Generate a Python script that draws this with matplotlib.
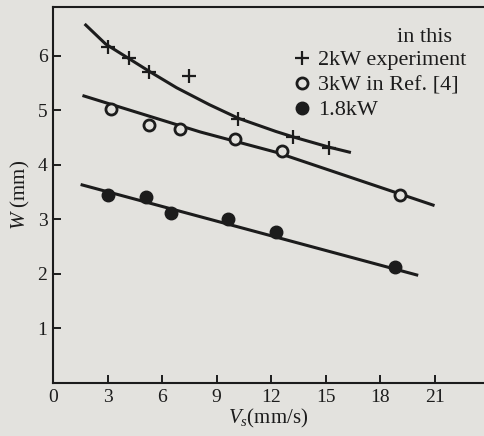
import matplotlib
matplotlib.use("Agg")
import matplotlib.pyplot as plt

# measured points
vs_2kw = [3.0, 4.2, 5.3, 7.5, 10.2, 13.2, 15.2]
w_2kw = [6.15, 5.95, 5.70, 5.62, 4.83, 4.50, 4.30]

vs_3kw = [3.2, 5.3, 7.0, 10.0, 12.6, 19.1]
w_3kw = [5.02, 4.73, 4.65, 4.48, 4.25, 3.44]

vs_18kw = [3.0, 5.1, 6.5, 9.6, 12.25, 18.8]
w_18kw = [3.44, 3.41, 3.11, 3.00, 2.77, 2.13]

# fitted curves
fit_2kw_x = [1.8, 2.9, 4.1, 5.3, 6.8, 8.6, 10.2, 12.25, 13.2, 15.2, 16.3]
fit_2kw_y = [6.56, 6.21, 5.96, 5.71, 5.41, 5.10, 4.85, 4.61, 4.51, 4.32, 4.23]

fit_3kw_x = [1.7, 8.1, 12.25, 20.9]
fit_3kw_y = [5.26, 4.60, 4.23, 3.26]

fit_18kw_x = [1.6, 20.0]
fit_18kw_y = [3.63, 1.98]

x_ticks = [0, 3, 6, 9, 12, 15, 18, 21]
y_ticks = [1, 2, 3, 4, 5, 6]

paper = "#e3e2de"
ink = "#1c1c1c"

plt.rcParams["font.family"] = "Liberation Serif"
plt.rcParams["mathtext.fontset"] = "custom"
plt.rcParams["mathtext.rm"] = "Liberation Serif"
plt.rcParams["mathtext.it"] = "Liberation Serif:italic"

fig = plt.figure(figsize=(4.84, 4.36), dpi=100, facecolor=paper)
ax = fig.add_axes([53 / 484, 53 / 436, 431 / 484, 376 / 436])
ax.set_facecolor(paper)

ax.plot(fit_2kw_x, fit_2kw_y, color=ink, lw=2.2)
ax.plot(fit_3kw_x, fit_3kw_y, color=ink, lw=2.2)
ax.plot(fit_18kw_x, fit_18kw_y, color=ink, lw=2.2)

ax.plot(vs_2kw, w_2kw, ls="none", marker="+", ms=10, mew=1.6,
        color=ink, label="2kW experiment")
ax.plot(vs_3kw, w_3kw, ls="none", marker="o", ms=8, mew=2.0,
        mfc=paper, mec=ink, label="3kW in Ref. [4]")
ax.plot(vs_18kw, w_18kw, ls="none", marker="o", ms=9,
        color=ink, label="1.8kW")

ax.set_xlim(0, 23.7)
ax.set_ylim(0, 6.89)
ax.set_xticks(x_ticks)
ax.set_yticks(y_ticks)
ax.tick_params(direction="in", length=6, width=1.4, colors=ink,
               labelsize=14, pad=4)

for side in ["left", "bottom", "top"]:
    ax.spines[side].set_linewidth(1.5)
    ax.spines[side].set_color(ink)
ax.spines["right"].set_visible(False)

ax.set_xlabel(r"$V_s$(mm/s)", fontsize=15, color=ink, labelpad=1)
ax.set_ylabel(r"$W$ (mm)", fontsize=15, color=ink, labelpad=4)

leg = ax.legend(loc="upper left", bbox_to_anchor=(0.56, 0.886), frameon=False,
                fontsize=16, handlelength=0.7, handletextpad=0.35,
                labelspacing=0.2, borderaxespad=0, borderpad=0)
for t in leg.get_texts():
    t.set_color(ink)
ax.text(0.798, 0.918, "in this", transform=ax.transAxes, fontsize=16,
        color=ink, va="center", ha="left")

fig.savefig("out.png", dpi=100, facecolor=paper)
